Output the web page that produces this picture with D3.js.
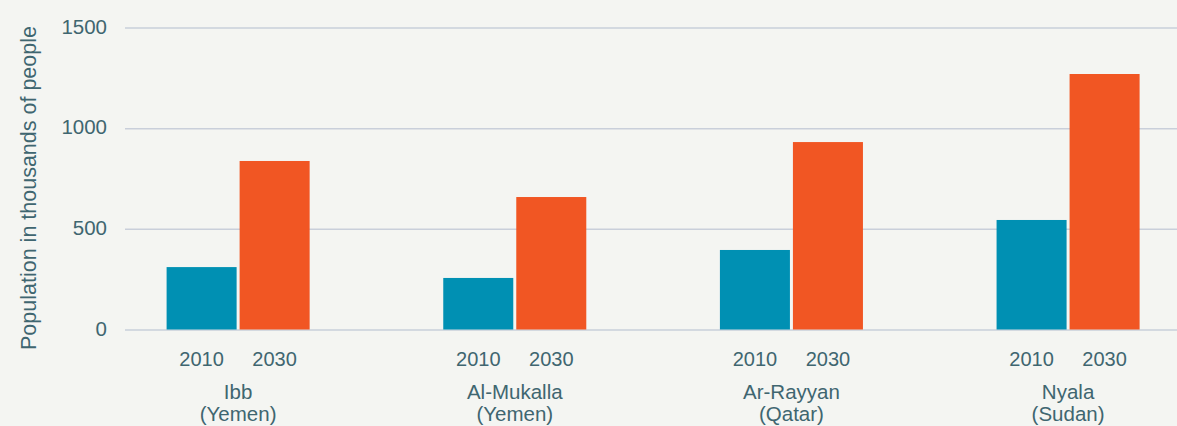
<!DOCTYPE html>
<html>
<head>
<meta charset="utf-8">
<script src="https://cdn.jsdelivr.net/npm/d3@7"></script>
<style>
  html, body { margin: 0; padding: 0; background: #f4f5f2; }
  svg { display: block; }
  text { font-family: "Liberation Sans", Arial, sans-serif; fill: #3f6670; }
</style>
</head>
<body>
<svg id="chart" width="1177" height="426"></svg>
<script>
const cities = ["Ibb", "Al-Mukalla", "Ar-Rayyan", "Nyala"];
const countries = ["(Yemen)", "(Yemen)", "(Qatar)", "(Sudan)"];
const years = ["2010", "2030"];
const values2010 = [310, 256, 395, 544];
const values2030 = [837, 658, 931, 1269];
const yTicks = [0, 500, 1000, 1500];
const yLabel = "Population in thousands of people";
const colors = ["#0090b3", "#f15623"];

const svg = d3.select("#chart");
const W = 1177, H = 426;

const y = d3.scaleLinear().domain([0, 1500]).range([329.5, 27.5]);
const x = d3.scaleBand().domain(cities).range([166.6, 1139.6]).paddingInner(0.483).paddingOuter(0);
const xs = d3.scaleBand().domain(years).range([0, x.bandwidth()]).paddingInner(0.041);

// gridlines
const yAxis = d3.axisLeft(y).tickValues(yTicks).tickSize(-(W - 125)).tickPadding(18).tickFormat(d3.format("d"));
const gy = svg.append("g").attr("transform", "translate(125,0)").call(yAxis);
gy.select(".domain").remove();
gy.selectAll(".tick line").attr("stroke", "#c9cfda").attr("stroke-width", 1.5);
gy.selectAll(".tick text").attr("font-size", 20.5).attr("fill", "#3f6670").attr("dy", "0.28em")
  .style("font-family", '"Liberation Sans", Arial, sans-serif');

// bars
const data = cities.map((c, i) => ({ city: c, vals: [values2010[i], values2030[i]] }));
const groups = svg.append("g").selectAll("g").data(data).join("g")
  .attr("transform", d => `translate(${x(d.city)},0)`);
groups.selectAll("rect").data(d => d.vals.map((v, j) => ({ year: years[j], v, j })))
  .join("rect")
  .attr("x", d => xs(d.year))
  .attr("width", xs.bandwidth())
  .attr("y", d => y(d.v))
  .attr("height", d => y(0) - y(d.v))
  .attr("fill", d => colors[d.j]);

// year labels
groups.selectAll("text.year").data(years).join("text")
  .attr("class", "year")
  .attr("x", d => xs(d) + xs.bandwidth() / 2)
  .attr("y", 365.5)
  .attr("text-anchor", "middle")
  .attr("font-size", 20)
  .text(d => d);

// city labels
groups.append("text")
  .attr("x", x.bandwidth() / 2)
  .attr("y", 399)
  .attr("text-anchor", "middle")
  .attr("font-size", 20.5)
  .text(d => d.city);
groups.append("text")
  .attr("x", x.bandwidth() / 2)
  .attr("y", 421)
  .attr("text-anchor", "middle")
  .attr("font-size", 20.5)
  .text((d, i) => countries[i]);

// y label
svg.append("text")
  .attr("transform", "translate(35.5,188) rotate(-90)")
  .attr("text-anchor", "middle")
  .attr("font-size", 21.5)
  .text(yLabel);
</script>
</body>
</html>
